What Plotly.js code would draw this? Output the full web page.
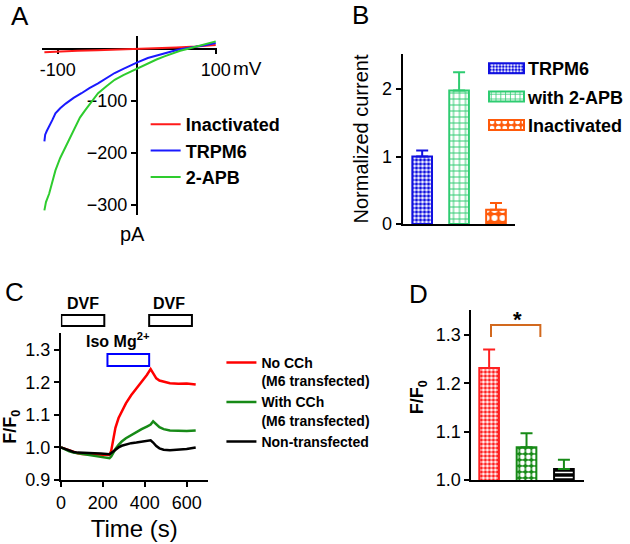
<!DOCTYPE html>
<html><head><meta charset="utf-8">
<script src="https://cdn.plot.ly/plotly-3.0.1.min.js"></script>
<style>html,body{margin:0;padding:0;background:#fff}#g{width:630px;height:544px}</style>
</head><body><div id="g"></div>
<script>
// ---------- Panel A: I-V curves ----------
var ivRedV   = [-117, -100, -75, -50, -25, 0, 25, 50, 75, 100];
var ivRedI   = [-6, -4.5, -3, -2, -1, 0, 1.5, 3, 5, 8];
var ivBlueV  = [-117, -116, -114, -111, -107, -103, -97, -90, -80, -70, -60, -49, -38, -28, -17, -7, 0, 14, 25, 35, 45, 55, 65, 76, 88, 100];
var ivBlueI  = [-178, -165, -158, -150, -137, -124, -114, -105, -94, -85, -75, -66, -56, -46, -38, -30, -26, -17, -12, -8, -4, 0, 2, 5, 8, 12];
var ivGreenV = [-117, -115, -111, -107, -103, -97, -90, -84, -78, -72, -65, -57, -49, -38, -28, -17, -7, 0, 14, 25, 35, 45, 55, 65, 76, 88, 100];
var ivGreenI = [-311, -295, -279, -255, -234, -210, -188, -168, -150, -132, -117, -100, -85, -71, -59, -50, -43, -38, -27, -20, -14, -8, -3, 1, 5, 10, 15];
var ivNames  = ['Inactivated', 'TRPM6', '2-APB'];
var ivXTicks = [-100, 100];
var ivYTicks = [-300, -200, -100];

// ---------- Panel B: normalized current ----------
var bNames = ['TRPM6', 'with 2-APB', 'Inactivated'];
var bVals  = [1.0, 1.98, 0.21];
var bErrs  = [0.09, 0.27, 0.10];
var bYTicks = [0, 1, 2];

// ---------- Panel C: time course ----------
var cTime  = [0, 20, 40, 60, 80, 100, 130, 160, 190, 215, 232, 240, 250, 260, 275, 290, 310, 335, 360, 385, 410, 428, 440, 455, 470, 490, 520, 560, 600, 643];
var cRed   = [1.0, 0.995, 0.99, 0.985, 0.982, 0.98, 0.979, 0.978, 0.977, 0.976, 0.977, 0.99, 1.03, 1.06, 1.09, 1.11, 1.135, 1.16, 1.18, 1.2, 1.222, 1.24, 1.228, 1.212, 1.205, 1.202, 1.197, 1.195, 1.196, 1.193];
var cGreen = [1.0, 0.993, 0.988, 0.984, 0.982, 0.98, 0.978, 0.975, 0.973, 0.97, 0.967, 0.972, 0.985, 0.995, 1.008, 1.018, 1.028, 1.038, 1.046, 1.056, 1.064, 1.07, 1.08, 1.072, 1.062, 1.056, 1.052, 1.051, 1.05, 1.052];
var cBlack = [1.0, 0.995, 0.99, 0.986, 0.984, 0.983, 0.982, 0.982, 0.981, 0.98, 0.979, 0.983, 0.988, 0.993, 1.0, 1.005, 1.009, 1.013, 1.015, 1.018, 1.02, 1.022, 1.015, 1.004, 0.997, 0.993, 0.991, 0.992, 0.995, 1.0];
var cNames = ['No CCh<br>(M6 transfected)', 'With CCh<br>(M6 transfected)', 'Non-transfected'];
var cXTicks = [0, 200, 400, 600];
var cYTicks = [0.9, 1.0, 1.1, 1.2, 1.3];
var dvfPeriods = [[2, 207], [421, 625]];
var isoPeriod  = [222, 421];

// ---------- Panel D: F/F0 summary ----------
var dVals = [1.232, 1.068, 1.023];
var dErrs = [0.038, 0.029, 0.019];
var dYTicks = [1.0, 1.1, 1.2, 1.3];

var FONT = 'Arial, "Liberation Sans", sans-serif';
function px(x){return x/630;}
function py(y){return 1 - y/544;}

var traces = [];
var ivCols = ['#ff1a1a', '#1a1aff', '#2ecc2e'];
[[ivRedV, ivRedI], [ivBlueV, ivBlueI], [ivGreenV, ivGreenI]].forEach(function(d, i){
  traces.push({type:'scatter', mode:'lines', x:d[0], y:d[1], name:ivNames[i], xaxis:'x', yaxis:'y',
    line:{color:ivCols[i], width:2}, legend:'legend', legendgroup:'a'+i});
});

var bCols = ['#1010e0', '#2ecc71', '#ff5a0a'];
var bPat = [
  {shape:'.', fgcolor:'#1010e0', bgcolor:'#ffffff', size:4, solidity:0.55},
  {shape:'+', fgcolor:'#2ecc71', bgcolor:'#ffffff', size:6, solidity:0.3},
  {shape:'.', fgcolor:'#ffffff', bgcolor:'#ff5a0a', size:8, solidity:0.45}
];
bNames.forEach(function(n, i){
  traces.push({type:'bar', x:[i], y:[bVals[i]], name:n, xaxis:'x2', yaxis:'y2', width:0.533,
    marker:{color:bCols[i], line:{color:bCols[i], width:2}, pattern:bPat[i]},
    error_y:{type:'data', symmetric:false, array:[bErrs[i]], arrayminus:[0], color:bCols[i], thickness:2, width:6},
    legend:'legend2', legendgroup:'b'+i});
});

var cCols = ['#ff0000', '#178a17', '#000000'];
[cRed, cGreen, cBlack].forEach(function(v, i){
  traces.push({type:'scatter', mode:'lines', x:cTime, y:v, name:cNames[i], xaxis:'x3', yaxis:'y3',
    line:{color:cCols[i], width:2.5}, legend:'legend3', legendgroup:'c'+i});
});

var dCols = ['#ff2020', '#178a17', '#000000'];
var dErrCols = ['#ff2020', '#178a17', '#178a17'];
var dPat = [
  {shape:'.', fgcolor:'#ff2020', bgcolor:'#ffffff', size:4, solidity:0.55},
  {shape:'.', fgcolor:'#ffffff', bgcolor:'#178a17', size:6, solidity:0.5},
  {shape:'-', fgcolor:'#ffffff', bgcolor:'#000000', size:5, solidity:0.3}
];
dVals.forEach(function(v, i){
  traces.push({type:'bar', x:[i], y:[v], xaxis:'x4', yaxis:'y4', width:0.526, showlegend:false,
    marker:{color:dCols[i], line:{color:dCols[i], width:2}, pattern:dPat[i]},
    error_y:{type:'data', symmetric:false, array:[dErrs[i]], arrayminus:[0], color:dErrCols[i], thickness:2, width:6}});
});

var axBase = {showgrid:false, zeroline:false, showline:true, linecolor:'#000', linewidth:2,
  ticks:'outside', ticklen:5, tickwidth:2, tickcolor:'#000', tickfont:{family:FONT, size:18, color:'#000'}, fixedrange:true};
function ax(o){var r = {}; for (var k in axBase) r[k] = axBase[k]; for (var k2 in o) r[k2] = o[k2]; return r;}

var shapes = [];
dvfPeriods.forEach(function(p){
  shapes.push({type:'rect', xref:'x3', yref:'paper', x0:p[0], x1:p[1], y0:py(326), y1:py(315), line:{color:'#000', width:2}, fillcolor:'rgba(0,0,0,0)'});
});
shapes.push({type:'rect', xref:'x3', yref:'paper', x0:isoPeriod[0], x1:isoPeriod[1], y0:py(366), y1:py(354), line:{color:'#0000ff', width:2}, fillcolor:'rgba(0,0,0,0)'});
shapes.push({type:'path', xref:'x4', yref:'y4', path:'M0.05,1.296 L0.05,1.321 L1.37,1.321 L1.37,1.296', line:{color:'#d2691e', width:2}});

function ann(text, x, y, size, opts){
  var a = {text:text, xref:'paper', yref:'paper', x:px(x), y:py(y), showarrow:false,
    font:{family:FONT, size:size, color:'#000'}, xanchor:'center', yanchor:'middle'};
  if (opts) for (var k in opts) a[k] = opts[k];
  return a;
}
var annotations = [
  ann('A', 20, 16, 26), ann('B', 366, 15, 26), ann('C', 15, 292, 26), ann('D', 425, 294, 26),
  ann('pA', 135, 234, 20),
  ann('mV', 235, 68, 19, {xanchor:'left'}),
  ann('<b>DVF</b>', 84, 303, 16), ann('<b>DVF</b>', 172, 303, 16),
  ann('<b>Iso Mg<sup>2+</sup></b>', 120, 340, 16),
  ann('<b>F/F<sub>0</sub></b>', 11, 427, 18, {textangle:-90}),
  ann('<b>F/F<sub>0</sub></b>', 425, 397, 18, {textangle:-90}),
  ann('<b>*</b>', 526, 319, 22)
];

var layout = {
  width:630, height:544, margin:{l:0, r:0, t:0, b:0}, paper_bgcolor:'#fff', plot_bgcolor:'rgba(0,0,0,0)',
  font:{family:FONT, color:'#000'}, hovermode:false, bargap:0,
  xaxis: ax({domain:[px(42.7), px(220)], range:[-120, 101], anchor:'free', position:py(49.3),
    tickvals:ivXTicks, ticktext:['-100', '100'], ticklen:4, layer:'below traces'}),
  yaxis: ax({domain:[py(215), py(35.7)], range:[-320, 26], anchor:'free', position:px(139),
    tickvals:ivYTicks, layer:'below traces'}),
  xaxis2: ax({domain:[px(409), px(523)], range:[-0.533, 2.507], anchor:'y2', ticks:'', showticklabels:false}),
  yaxis2: ax({domain:[py(224), py(54)], range:[0, 2.52], anchor:'x2', tickvals:bYTicks,
    title:{text:'Normalized current', font:{family:FONT, size:20, color:'#000'}, standoff:8}}),
  xaxis3: ax({domain:[px(61.9), px(211)], range:[0, 700], anchor:'y3', tickvals:cXTicks,
    title:{text:'Time (s)', font:{family:FONT, size:24, color:'#000'}, standoff:9}}),
  yaxis3: ax({domain:[py(480), py(333.3)], range:[0.9, 1.35], anchor:'x3', tickvals:cYTicks, tickformat:'.1f'}),
  xaxis4: ax({domain:[px(479), px(593)], range:[-0.474, 2.526], anchor:'y4', ticks:'', showticklabels:false}),
  yaxis4: ax({domain:[py(480), py(310)], range:[1.0, 1.352], anchor:'x4', tickvals:dYTicks, tickformat:'.1f'}),
  legend: {x:px(148), y:py(106), xanchor:'left', yanchor:'top', bgcolor:'rgba(0,0,0,0)', borderwidth:0,
    font:{family:FONT, size:18, color:'#000', weight:'bold'}, tracegroupgap:0, traceorder:'grouped'},
  legend2: {x:px(496), y:py(50), xanchor:'left', yanchor:'top', bgcolor:'rgba(0,0,0,0)', borderwidth:0,
    font:{family:FONT, size:18, color:'#000', weight:'bold'}, tracegroupgap:2, traceorder:'grouped'},
  legend3: {x:px(225), y:py(347), xanchor:'left', yanchor:'top', bgcolor:'rgba(0,0,0,0)', borderwidth:0, valign:'top',
    font:{family:FONT, size:14, color:'#000', weight:'bold'}, tracegroupgap:0, traceorder:'grouped'},
  shapes:shapes, annotations:annotations
};

Plotly.newPlot('g', traces, layout, {staticPlot:true, displayModeBar:false}).then(function(gd){
  try {
    var paths = gd.querySelectorAll('.legend2 .legendpoints path');
    paths.forEach(function(p){ p.setAttribute('d', 'M16,5H-19V-5H16Z'); });
  } catch(e) {}
});
</script></body></html>
